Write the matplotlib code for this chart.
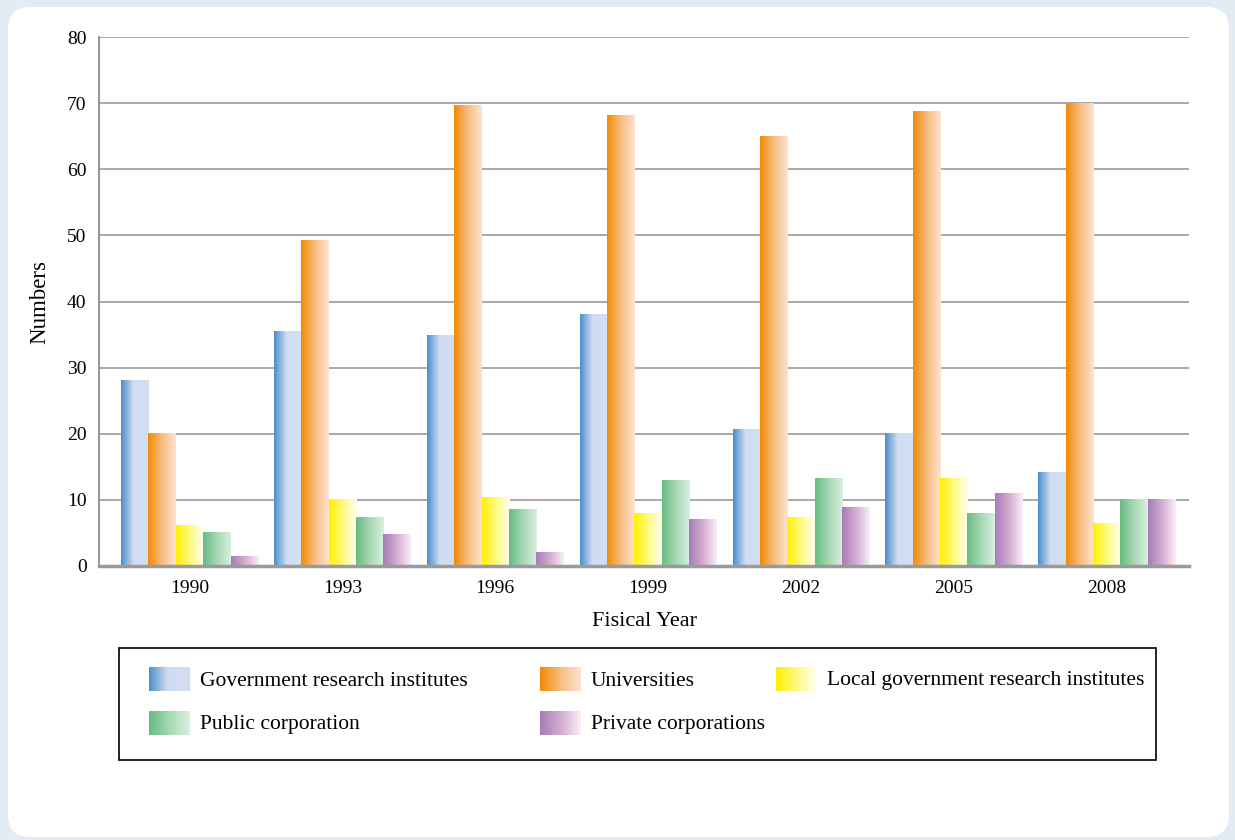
import numpy as np
import matplotlib.pyplot as plt
from matplotlib.colors import LinearSegmentedColormap
from matplotlib.patches import FancyBboxPatch, Rectangle

plt.rcParams['font.family'] = ['Liberation Serif', 'DejaVu Serif']

years = ['1990', '1993', '1996', '1999', '2002', '2005', '2008']
gov = [28.0, 35.4, 34.8, 38.0, 20.7, 20.1, 14.2]
univ = [20.1, 49.3, 69.6, 68.1, 65.0, 68.8, 70.0]
local_gov = [6.2, 10.0, 10.4, 8.0, 7.4, 13.3, 6.5]
public = [5.0, 7.3, 8.5, 12.9, 13.3, 8.0, 10.1]
private = [1.4, 4.8, 2.0, 7.1, 8.9, 11.0, 10.1]

series = [gov, univ, local_gov, public, private]
names = ['Government research institutes', 'Universities',
         'Local government research institutes', 'Public corporation',
         'Private corporations']

# left-to-right shading of each series
shades = [
    [(0, '#4a8ed0'), (0.45, '#d0dcf0'), (1, '#d3def1')],
    [(0, '#f18a06'), (0.5, '#f7bd80'), (1, '#fde3d0')],
    [(0, '#fff000'), (0.5, '#fffa80'), (1, '#fffff2')],
    [(0, '#68bb82'), (0.5, '#a6d8b4'), (1, '#daf0e0')],
    [(0, '#a67cb8'), (0.5, '#d2acd0'), (1, '#fbeef7')],
]
cmaps = [LinearSegmentedColormap.from_list('s%d' % i, s) for i, s in enumerate(shades)]
ramp = np.linspace(0, 1, 128).reshape(1, -1)

W, H = 1235, 840
fig = plt.figure(figsize=(W / 100, H / 100), dpi=100)
fig.patch.set_facecolor('#e3ebf5')

# white panel + legend live in a pixel-space axes behind the chart
bg = fig.add_axes([0, 0, 1, 1], zorder=0)
bg.set_xlim(0, W)
bg.set_ylim(H, 0)
bg.axis('off')
bg.add_patch(FancyBboxPatch((8, 7), 1221, 830, boxstyle='round,pad=0,rounding_size=22',
                            facecolor='white', edgecolor='none', zorder=0))

ax = fig.add_axes([99 / W, (H - 566) / H, 1090 / W, 529 / H], zorder=1)
ax.patch.set_alpha(0)

n = len(series)
w = 0.179
x = np.arange(len(years))
for j, vals in enumerate(series):
    for i, v in enumerate(vals):
        x0 = x[i] + (j - n / 2) * w
        ax.imshow(ramp, cmap=cmaps[j], extent=(x0, x0 + w, 0, v),
                  aspect='auto', zorder=3, interpolation='bilinear')

ax.set_xlim(-0.592, 6.539)
ax.set_ylim(0, 80)
ax.set_yticks(range(0, 81, 10))
ax.set_xticks(x)
ax.set_xticklabels(years)
ax.yaxis.grid(True, color='#a3a3a3', lw=1.3, zorder=1)
ax.set_axisbelow(True)
ax.tick_params(length=0, labelsize=14, pad=9)
ax.tick_params(axis='x', pad=10)
for s in ['top', 'right']:
    ax.spines[s].set_visible(False)
ax.spines['left'].set_color('#9a9a9a')
ax.spines['left'].set_linewidth(1.5)
ax.spines['bottom'].set_color('#9a9a9a')
ax.spines['bottom'].set_linewidth(2.5)
ax.spines['bottom'].set_zorder(4)
ax.set_ylabel('Numbers', fontsize=16.5, labelpad=12)
ax.set_xlabel('Fisical Year', fontsize=16, labelpad=11)

# legend box
bg.add_patch(Rectangle((119, 648), 1037, 112, facecolor='none', edgecolor='black',
                       lw=1.2, zorder=2))
cols = [149, 540, 776]
rows = [679, 723]
for k, name in enumerate(names):
    lx = cols[k % 3]
    ly = rows[k // 3]
    bg.imshow(ramp, cmap=cmaps[k], extent=(lx, lx + 41, ly + 12, ly - 12),
              aspect='auto', interpolation='bilinear', zorder=3)
    bg.text(lx + 51, ly + 2, name, fontsize=15.5, va='center', ha='left', zorder=3)
bg.set_xlim(0, W)
bg.set_ylim(H, 0)

fig.savefig('out.png', dpi=100, facecolor=fig.get_facecolor())
